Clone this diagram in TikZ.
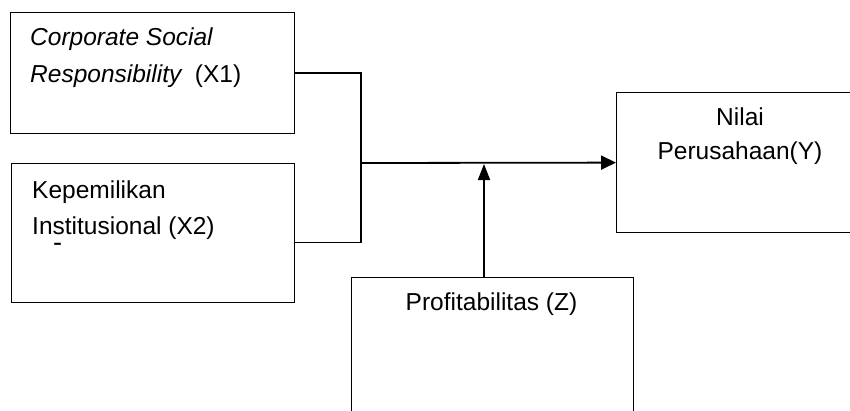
\documentclass[tikz,border=0pt]{standalone}
\usepackage{fontspec}
\setmainfont{Liberation Sans}
\usetikzlibrary{arrows.meta}
\begin{document}
\begin{tikzpicture}[x=1pt,y=-1pt,
  box/.style={draw, line width=1.2pt, inner sep=0pt, anchor=north west},
  lbl/.style={inner sep=0pt, font=\fontsize{24.5}{36}\selectfont},
  link/.style={line width=1.3pt},
  flow/.style={line width=1.8pt, -{Triangle[length=15pt,width=14pt]}}]
\clip (0,0) rectangle (850,410);
\fill[white] (0,0) rectangle (850,410);

% variable boxes (Y and Z run off the page edge)
\node[box, minimum width=284pt, minimum height=121pt] (x1) at (10,12) {};
\node[box, minimum width=283pt, minimum height=139pt] (x2) at (11,163) {};
\node[box, minimum width=245pt, minimum height=140pt] (y) at (616,92) {};
\node[box, minimum width=282pt, minimum height=160pt] (z) at (351,277) {};

% labels
\node[lbl, anchor=base west] (t1a) at (30,45) {\itshape Corporate Social};
\node[lbl, anchor=base west] (t1b) at (30,82) {\itshape Responsibility\upshape\ \ (X1)};
\node[lbl, anchor=base west] (t2a) at (32,198) {Kepemilikan};
\node[lbl, anchor=base west] (t2b) at (32,234) {Institusional (X2)};
\node[inner sep=0pt, font=\fontsize{27}{27}\selectfont] (t2c) at (57.5,247) {-};
\node[lbl, anchor=base] (t3a) at (740,125) {Nilai};
\node[lbl, anchor=base] (t3b) at (740,159) {Perusahaan(Y)};
\node[lbl, anchor=base] (t4) at (491.5,310) {Profitabilitas (Z)};

% joining bracket and arrows
\coordinate (j) at (361,163);
\coordinate (m) at (484,164);
\draw[link] (x1.east) -| (j);
\draw[link] ([yshift=-9.5pt]x2.east) -| (j);
\draw[flow] (j) -- (y.west);
\draw[flow, -{Triangle[length=16pt,width=12pt]}] (m |- z.north) -- (m);
\end{tikzpicture}
\end{document}
